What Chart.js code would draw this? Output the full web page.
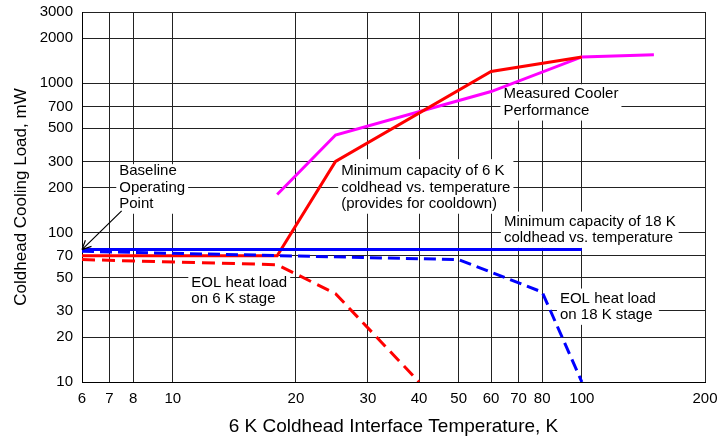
<!DOCTYPE html>
<html>
<head>
<meta charset="utf-8">
<script src="https://cdn.jsdelivr.net/npm/chart.js@4.4.0/dist/chart.umd.min.js"></script>
<style>
  html, body { margin: 0; padding: 0; background: #fff; }
</style>
</head>
<body>
<canvas id="coolerChart" width="720" height="443"></canvas>
<script>
// tick values (log axes, grid only at these)
const tempTicks = [6, 7, 8, 10, 20, 30, 40, 50, 60, 70, 80, 100, 200];
const loadTicks = [10, 20, 30, 50, 70, 100, 200, 300, 500, 700, 1000, 2000, 3000];

// curves: temperature (K) / load (mW)
const cap6kTemp = [6, 18, 25, 60, 100];
const cap6kLoad = [70, 70, 300, 1200, 1500];
const measuredTemp = [18, 25, 60, 100, 150];
const measuredLoad = [180, 450, 880, 1500, 1550];
const cap18kTemp = [6, 100];
const cap18kLoad = [77, 77];
const eol18kTemp = [6, 50, 80, 100];
const eol18kLoad = [75, 66, 40, 10];
const eol6kTemp = [6, 18, 25, 40];
const eol6kLoad = [66, 61, 39, 10];

// text notes, anchored in data coords (left edge, first line)
const notes = [
  { t: 7.4, load: 258, padTop: 7, lines: ['Baseline', 'Operating', 'Point'] },
  { t: 25.8, load: 258, padTop: 12, lines: ['Minimum capacity of 6 K', 'coldhead vs. temperature', '(provides for cooldown)'] },
  { t: 64.3, load: 844, padTop: 10, lines: ['Measured Cooler', 'Performance'] },
  { t: 64.5, load: 118.5, padTop: 10, lines: ['Minimum capacity of 18 K', 'coldhead vs. temperature'] },
  { t: 11.1, load: 46.4, padTop: 10, lines: ['EOL heat load', 'on 6 K stage'] },
  { t: 88.4, load: 36.2, padTop: 10, lines: ['EOL heat load', 'on 18 K stage'] },
];
const arrowFrom = { t: 7.5, load: 140 };
const arrowTo = { t: 6, load: 77 };

const FONT = '"Liberation Sans", Arial, Helvetica, sans-serif';

function toPoints(xs, ys) {
  return xs.map((x, i) => ({ x, y: ys[i] }));
}

const notesPlugin = {
  id: 'notes',
  beforeDatasetsDraw(chart) {
    const ctx = chart.ctx;
    const xs = chart.scales.x, ys = chart.scales.y;
    const lineH = 16.3;
    ctx.save();
    ctx.font = '15px ' + FONT;
    ctx.textBaseline = 'middle';
    notes.forEach(n => {
      const x = xs.getPixelForValue(n.t);
      const y = ys.getPixelForValue(n.load);
      const w = Math.max(...n.lines.map(l => ctx.measureText(l).width));
      ctx.fillStyle = '#fff';
      ctx.fillRect(x - 3, y - n.padTop, w + 6, lineH * (n.lines.length - 1) + n.padTop + 10);
      ctx.fillStyle = '#000';
      n.lines.forEach((l, i) => ctx.fillText(l, x, y + i * lineH));
    });
    ctx.restore();
  },
  afterDatasetsDraw(chart) {
    const ctx = chart.ctx;
    const xs = chart.scales.x, ys = chart.scales.y;
    const x1 = xs.getPixelForValue(arrowFrom.t), y1 = ys.getPixelForValue(arrowFrom.load);
    const x2 = xs.getPixelForValue(arrowTo.t), y2 = ys.getPixelForValue(arrowTo.load);
    const ang = Math.atan2(y2 - y1, x2 - x1);
    ctx.save();
    ctx.strokeStyle = '#000';
    ctx.lineWidth = 1.2;
    ctx.beginPath();
    ctx.moveTo(x1, y1);
    ctx.lineTo(x2, y2);
    [-0.45, 0.45].forEach(d => {
      ctx.moveTo(x2, y2);
      ctx.lineTo(x2 - 10 * Math.cos(ang + d), y2 - 10 * Math.sin(ang + d));
    });
    ctx.stroke();
    ctx.restore();
  }
};

function lineSet(label, xs, ys, color, dash) {
  return {
    label,
    data: toPoints(xs, ys),
    borderColor: color,
    backgroundColor: color,
    borderWidth: 3,
    borderDash: dash || [],
    showLine: true,
    pointRadius: 0,
    tension: 0,
  };
}

new Chart(document.getElementById('coolerChart'), {
  type: 'scatter',
  data: {
    datasets: [
      lineSet('EOL heat load on 6 K stage', eol6kTemp, eol6kLoad, '#ff0000', [13, 7]),
      lineSet('EOL heat load on 18 K stage', eol18kTemp, eol18kLoad, '#0000ff', [12, 6]),
      lineSet('Minimum capacity of 18 K coldhead', cap18kTemp, cap18kLoad, '#0000ff'),
      lineSet('Minimum capacity of 6 K coldhead', cap6kTemp, cap6kLoad, '#ff0000'),
      lineSet('Measured Cooler Performance', measuredTemp, measuredLoad, '#ff00ff'),
    ],
  },
  plugins: [notesPlugin],
  options: {
    responsive: false,
    animation: false,
    layout: {
      padding: { top: 12, right: 15, left: 0, bottom: 0 },
    },
    plugins: {
      legend: { display: false },
      tooltip: { enabled: false },
    },
    scales: {
      x: {
        type: 'logarithmic',
        min: 6,
        max: 200,
        afterBuildTicks: scale => { scale.ticks = tempTicks.map(v => ({ value: v })); },
        afterFit: scale => {
          scale.height = 61;
          scale.paddingLeft = 0;
          scale.paddingRight = 0;
        },
        grid: { color: '#222', lineWidth: 1, drawTicks: false },
        border: { color: '#000', width: 1 },
        ticks: {
          autoSkip: false,
          maxRotation: 0,
          padding: 8,
          color: '#000',
          font: { family: FONT, size: 15 },
          callback: v => String(v),
        },
        title: {
          display: true,
          text: '6 K Coldhead Interface Temperature, K',
          color: '#000',
          font: { family: FONT, size: 19 },
          padding: { top: 0, bottom: 5 },
        },
      },
      y: {
        type: 'logarithmic',
        min: 10,
        max: 3000,
        afterBuildTicks: scale => { scale.ticks = loadTicks.map(v => ({ value: v })); },
        afterFit: scale => {
          scale.width = 82;
          scale.paddingTop = 0;
          scale.paddingBottom = 0;
        },
        grid: { color: '#222', lineWidth: 1, drawTicks: false },
        border: { color: '#000', width: 1 },
        ticks: {
          autoSkip: false,
          padding: 9,
          color: '#000',
          font: { family: FONT, size: 15 },
          callback: v => String(v),
        },
        title: {
          display: true,
          text: 'Coldhead Cooling Load, mW',
          color: '#000',
          font: { family: FONT, size: 17 },
          padding: { top: 11, bottom: 0 },
        },
      },
    },
  },
});
</script>
</body>
</html>
